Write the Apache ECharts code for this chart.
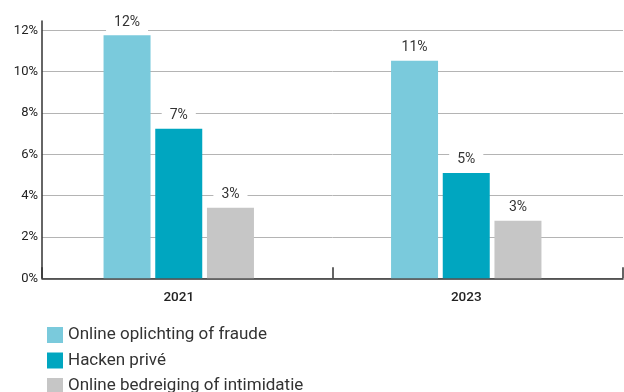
<!DOCTYPE html>
<html><head><meta charset="utf-8">
<script src="https://cdn.jsdelivr.net/npm/echarts@6/dist/echarts.min.js"></script>
<style>html,body{margin:0;padding:0;background:#fff}#c{width:624px;height:392px}</style>
</head><body><div id="c"></div>
<script>
const categories = ['2021', '2023'];
const seriesNames = ['Online oplichting of fraude', 'Hacken privé', 'Online bedreiging of intimidatie'];
const fraude = [11.76, 10.53];
const hacken = [7.24, 5.10];
const bedreiging = [3.41, 2.78];
const yTicks = [0, 2, 4, 6, 8, 10, 12];
const colors = ['#7acadc', '#00a6c0', '#c6c6c6'];

const chart = echarts.init(document.getElementById('c'), null, {renderer: 'canvas'});
const FONT = 'Roboto';
const yMax = 12.45;
const gridColors = yTicks.map(() => '#b4b4b4').concat(['rgba(0,0,0,0)']);

function barSeries(name, data, color) {
  return {
    name, type: 'bar', data, xAxisIndex: 1, yAxisIndex: 1,
    barWidth: 47, barGap: '10%',
    itemStyle: {color},
    label: {
      show: true, position: 'top', distance: 4,
      formatter: p => Math.round(p.value) + '%',
      fontFamily: FONT, fontSize: 14, color: '#333',
      backgroundColor: '#fff', padding: [2, 8]
    }
  };
}

chart.setOption({
  animation: false,
  color: colors,
  textStyle: {fontFamily: FONT},
  grid: [
    {left: 42, right: 1, top: 21, bottom: 113.7},
    {left: 35, right: 14, top: 21, bottom: 113.7}
  ],
  xAxis: [
    {type: 'category', gridIndex: 0, data: categories,
     axisLine: {lineStyle: {color: '#333', width: 1.5}},
     axisTick: {show: true, inside: true, length: 11, lineStyle: {color: '#333', width: 1.5}},
     axisLabel: {show: false}},
    {type: 'category', gridIndex: 1, data: categories,
     axisLine: {show: false}, axisTick: {show: false},
     axisLabel: {show: true, margin: 12, fontFamily: FONT, fontSize: 13.5, fontWeight: 500, color: '#222'}}
  ],
  yAxis: [
    {type: 'value', gridIndex: 0, min: 0, max: yMax, interval: 2,
     axisLine: {show: true, lineStyle: {color: '#333', width: 1.5}},
     axisTick: {show: false},
     axisLabel: {margin: 4, fontFamily: FONT, fontSize: 13, color: '#222',
       formatter: v => yTicks.indexOf(v) >= 0 ? v + '%' : ''},
     splitLine: {show: true, lineStyle: {color: gridColors, width: 1}}},
    {type: 'value', gridIndex: 1, min: 0, max: yMax, interval: 2, show: false,
     splitLine: {show: false}}
  ],
  legend: {
    orient: 'vertical', left: 42, top: 321.5, height: 120,
    itemWidth: 16, itemHeight: 16, itemGap: 8.5,
    icon: 'rect',
    data: seriesNames,
    textStyle: {fontFamily: FONT, fontSize: 17, color: '#333', lineHeight: 16, padding: [0, 0, 0, 0]}
  },
  series: [
    barSeries(seriesNames[0], fraude, colors[0]),
    barSeries(seriesNames[1], hacken, colors[1]),
    barSeries(seriesNames[2], bedreiging, colors[2])
  ]
});
</script></body></html>
